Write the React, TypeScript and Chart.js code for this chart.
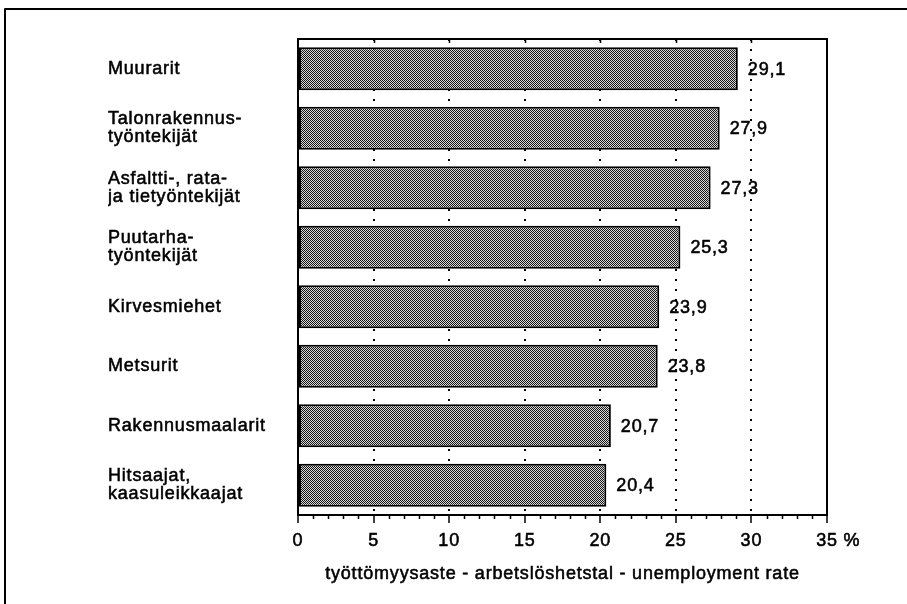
import React, { useEffect, useRef } from 'react';
import { Chart, registerables } from 'chart.js';

Chart.register(...registerables);

const categories: (string | string[])[] = [
  'Muurarit',
  ['Talonrakennus-', 'työntekijät'],
  ['Asfaltti-, rata-', 'ja tietyöntekijät'],
  ['Puutarha-', 'työntekijät'],
  'Kirvesmiehet',
  'Metsurit',
  'Rakennusmaalarit',
  ['Hitsaajat,', 'kaasuleikkaajat'],
];

const rates = [29.1, 27.9, 27.3, 25.3, 23.9, 23.8, 20.7, 20.4];

const xMin = 0;
const xMax = 35;
const xStep = 5;
const axisTitle = 'työttömyysaste - arbetslöshetstal - unemployment rate';
const unitLabel = '%';

const FONT = "'Liberation Sans', Arial, Helvetica, sans-serif";
const FONT_SIZE = 18;
const LETTER_SPACING = '0.8px';
const STROKE_W = 0.55;
const TITLE_PAD_BOTTOM = 19;

const fmt = (v: number) => v.toFixed(1).replace('.', ',');

const decorPlugin = {
  id: 'decor',
  beforeDraw(chart: any) {
    chart.ctx.letterSpacing = LETTER_SPACING;
  },
  afterDatasetsDraw(chart: any) {
    const ctx = chart.ctx;
    const meta = chart.getDatasetMeta(0);
    ctx.save();
    ctx.letterSpacing = LETTER_SPACING;
    ctx.font = `${FONT_SIZE}px ${FONT}`;
    ctx.fillStyle = '#000';
    ctx.strokeStyle = '#000';
    ctx.lineWidth = STROKE_W;
    ctx.lineJoin = 'round';
    ctx.textAlign = 'left';
    ctx.textBaseline = 'middle';
    meta.data.forEach((el: any, i: number) => {
      const t = fmt(rates[i]);
      ctx.strokeText(t, el.x + 10, el.y + 1);
      ctx.fillText(t, el.x + 10, el.y + 1);
    });
    ctx.restore();
  },
  afterDraw(chart: any) {
    const ctx = chart.ctx;
    const a = chart.chartArea;
    const x = chart.scales.x;
    ctx.save();
    ctx.letterSpacing = LETTER_SPACING;
    ctx.strokeStyle = '#000';
    // plot frame
    ctx.lineWidth = 2;
    ctx.strokeRect(a.left, a.top, a.right - a.left, a.bottom - a.top);
    // minor ticks (bottom) and small ticks (top)
    ctx.lineWidth = 1.5;
    ctx.beginPath();
    for (let v = xMin; v <= xMax; v++) {
      const px = Math.round(x.getPixelForValue(v)) + 0.5;
      if (v % xStep !== 0) {
        ctx.moveTo(px, a.bottom);
        ctx.lineTo(px, a.bottom + 4);
      } else if (v > xMin && v < xMax) {
        ctx.moveTo(px, a.top);
        ctx.lineTo(px, a.top + 4);
      }
    }
    ctx.stroke();
    // unit label after last tick
    ctx.font = `${FONT_SIZE}px ${FONT}`;
    ctx.fillStyle = '#000';
    ctx.lineWidth = STROKE_W;
    ctx.lineJoin = 'round';
    ctx.textAlign = 'left';
    ctx.textBaseline = 'middle';
    const lastPx = x.getPixelForValue(xMax);
    const lh = FONT_SIZE * 1.2;
    const ty = a.bottom + x.options.grid.tickLength + x.options.ticks.padding + lh / 2;
    const tx = lastPx + ctx.measureText(String(xMax)).width / 2 + ctx.measureText(' ').width;
    ctx.strokeText(unitLabel, tx, ty);
    ctx.fillText(unitLabel, tx, ty);
    // thicken the axis title slightly (same position as Chart.js title)
    ctx.textAlign = 'center';
    const titleY = x.bottom - TITLE_PAD_BOTTOM - lh / 2;
    ctx.strokeText(axisTitle, (a.left + a.right) / 2, titleY);
    // outer frame (top + left)
    ctx.lineWidth = 2;
    ctx.beginPath();
    ctx.moveTo(5, chart.height);
    ctx.lineTo(5, 9);
    ctx.lineTo(chart.width, 9);
    ctx.stroke();
    ctx.restore();
  },
};

function makePattern(ctx: CanvasRenderingContext2D): CanvasPattern | string {
  const p = document.createElement('canvas');
  p.width = 2;
  p.height = 2;
  const pc = p.getContext('2d');
  if (!pc) return '#777';
  pc.fillStyle = '#d8d8d8';
  pc.fillRect(0, 0, 2, 2);
  pc.fillStyle = '#151515';
  pc.fillRect(0, 0, 1, 1);
  pc.fillRect(1, 1, 1, 1);
  return ctx.createPattern(p, 'repeat') || '#777';
}

export default function App() {
  const ref = useRef<HTMLCanvasElement | null>(null);

  useEffect(() => {
    const canvas = ref.current;
    if (!canvas) return;
    const ctx = canvas.getContext('2d')!;
    const pattern = makePattern(ctx);

    const chart = new Chart(canvas, {
      type: 'bar',
      data: {
        labels: categories as any,
        datasets: [
          {
            data: rates,
            backgroundColor: pattern as any,
            borderColor: '#000',
            borderWidth: 2,
            borderSkipped: false,
            barPercentage: 0.72,
            categoryPercentage: 1,
          },
        ],
      },
      options: {
        indexAxis: 'y',
        responsive: false,
        animation: false,
        devicePixelRatio: 1,
        layout: { padding: { left: 108, right: 80, top: 39, bottom: 0 } },
        plugins: {
          legend: { display: false },
          tooltip: { enabled: false },
        },
        scales: {
          x: {
            type: 'linear',
            position: 'bottom',
            min: xMin,
            max: xMax,
            afterFit: (s: any) => {
              s.height = 89;
            },
            ticks: {
              stepSize: xStep,
              color: '#000',
              padding: 7,
              font: { family: FONT, size: FONT_SIZE },
              maxRotation: 0,
              textStrokeColor: '#000',
              textStrokeWidth: STROKE_W,
            },
            grid: {
              color: (c: any) =>
                c.tick && c.tick.value > xMin && c.tick.value < xMax ? '#000' : 'rgba(0,0,0,0)',
              lineWidth: 2,
              tickColor: '#000',
              tickWidth: 1.5,
              tickLength: 8,
            },
            border: { display: true, color: '#000', width: 2, dash: [2, 8] },
            title: {
              display: true,
              text: axisTitle,
              color: '#000',
              font: { family: FONT, size: FONT_SIZE },
              padding: { top: 0, bottom: TITLE_PAD_BOTTOM },
            },
          },
          y: {
            type: 'category',
            position: 'left',
            afterFit: (s: any) => {
              s.width = 190;
            },
            grid: { display: false },
            border: { display: false },
            ticks: {
              crossAlign: 'far',
              color: '#000',
              font: { family: FONT, size: FONT_SIZE, lineHeight: 1.0 },
              autoSkip: false,
              textStrokeColor: '#000',
              textStrokeWidth: STROKE_W,
            },
          },
        },
      },
      plugins: [decorPlugin],
    });

    return () => chart.destroy();
  }, []);

  return (
    <div style={{ position: 'absolute', left: 0, top: 0, width: 907, height: 604, background: '#fff' }}>
      <canvas ref={ref} width={907} height={604} style={{ display: 'block' }} />
    </div>
  );
}
